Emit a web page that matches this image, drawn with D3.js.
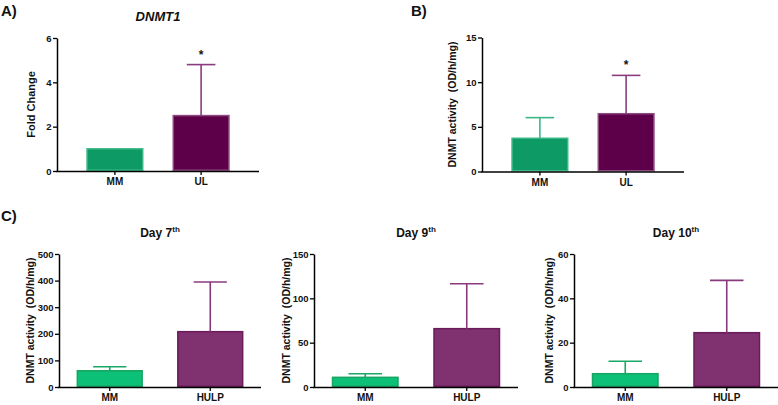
<!DOCTYPE html>
<html><head><meta charset="utf-8">
<script src="https://cdn.jsdelivr.net/npm/d3@7"></script>
<style>
body{margin:0;background:#fff;}
svg text{font-family:"Liberation Sans",Arial,sans-serif;font-weight:bold;}
</style></head>
<body><svg id="c" width="778" height="405"></svg>
<script>
// ---- data ----
const catsAB = ["MM", "UL"];
const catsC = ["MM", "HULP"];
const aValues = [1.0, 2.5];      const aSD = [0, 2.3];
const bValues = [3.72, 6.47];    const bSD = [2.31, 4.29];
const d7Values = [61, 208];      const d7SD = [15, 187];
const d9Values = [10.9, 65.8];   const d9SD = [4.1, 50.7];
const d10Values = [6.0, 24.5];   const d10SD = [5.6, 23.6];
const aTicks = [0, 2, 4, 6];
const bTicks = [0, 5, 10, 15];
const d7Ticks = [0, 100, 200, 300, 400, 500];
const d9Ticks = [0, 50, 100, 150];
const d10Ticks = [0, 20, 40, 60];

const svg = d3.select("#c");

const styleAB = [
  {fill:"#0e9a65", stroke:"#3bb787", err:"#3bb787"},
  {fill:"#5e0049", stroke:"#8c4a80", err:"#8b3c7e"}
];
const styleC = [
  {fill:"#0cc077", stroke:"#18a462", err:"#1aa866"},
  {fill:"#803270", stroke:"#6b1a5c", err:"#8a3a7c"}
];

function panel(o){
  const g = svg.append("g");
  const x = d3.scaleBand().domain(o.cats).range([o.x0, o.x1])
    .paddingInner(o.pi).paddingOuter(o.po);
  const y = d3.scaleLinear().domain([0, o.ticks[o.ticks.length-1]]).range([o.y0, o.y1]);
  const data = o.cats.map((c,i)=>({c, v:o.values[i], sd:o.sd[i], s:o.styles[i]}));
  // bars
  g.selectAll("rect.bar").data(data).enter().append("rect")
    .attr("x", d=>x(d.c)+0.75).attr("width", x.bandwidth()-1.5)
    .attr("y", d=>y(d.v)).attr("height", d=>y(0)-y(d.v)-0.75)
    .attr("fill", d=>d.s.fill).attr("stroke", d=>d.s.stroke).attr("stroke-width",1.5);
  // error bars
  const eb = data.filter(d=>d.sd>0);
  g.selectAll("line.ev").data(eb).enter().append("line")
    .attr("x1", d=>x(d.c)+x.bandwidth()/2).attr("x2", d=>x(d.c)+x.bandwidth()/2)
    .attr("y1", d=>y(d.v)).attr("y2", d=>y(d.v+d.sd))
    .attr("stroke", d=>d.s.err).attr("stroke-width",1.6);
  g.selectAll("line.ec").data(eb).enter().append("line")
    .attr("x1", d=>x(d.c)+x.bandwidth()*0.25).attr("x2", d=>x(d.c)+x.bandwidth()*0.75)
    .attr("y1", d=>y(d.v+d.sd)).attr("y2", d=>y(d.v+d.sd))
    .attr("stroke", d=>d.s.err).attr("stroke-width",1.6);
  // y axis
  const ya = g.append("g").attr("transform",`translate(${o.x0},0)`)
    .call(d3.axisLeft(y).tickValues(o.ticks).tickFormat(d3.format("d"))
      .tickSize(4).tickPadding(1.5).tickSizeOuter(0));
  ya.select(".domain").attr("stroke","#000").attr("stroke-width",1.5);
  ya.selectAll(".tick line").attr("stroke","#000").attr("stroke-width",1.3);
  ya.selectAll(".tick text").attr("font-size",9.5).attr("fill","#111");
  // x axis
  const xa = g.append("g").attr("transform",`translate(0,${o.y0})`)
    .call(d3.axisBottom(x).tickSize(4).tickPadding(3).tickSizeOuter(0));
  xa.select(".domain").attr("stroke","#000").attr("stroke-width",1.5)
    .attr("d", `M${o.x0-0.75},0.5H${o.x1}`);
  xa.selectAll(".tick line").attr("stroke","#000").attr("stroke-width",1.3);
  xa.selectAll(".tick text").attr("font-size",10).attr("fill","#111");
  // y label
  g.append("text").attr("transform",`translate(${o.ylx},${(o.y0+o.y1)/2}) rotate(-90)`)
    .attr("text-anchor","middle").attr("font-size",o.ylfs).attr("fill","#111")
    .style("white-space","pre").text(o.ylabel);
  // title
  if (o.title){
    const t = g.append("text").attr("x",(o.x0+o.x1)/2).attr("y",o.ty)
      .attr("text-anchor","middle").attr("font-size",o.tfs).attr("fill","#111");
    if (o.italic) t.attr("font-style","italic");
    t.append("tspan").text(o.title);
    if (o.sup) t.append("tspan").attr("font-size",8).attr("dy",-5).text(o.sup);
  }
  // significance stars
  if (o.star) o.star.forEach(c=>{
    const d = data.find(e=>e.c===c);
    g.append("text").attr("x", x(c)+x.bandwidth()/2).attr("y", y(d.v+d.sd)-6)
      .attr("text-anchor","middle").attr("font-size",12).attr("fill","#111").text("*");
  });
}

panel({cats:catsAB, values:aValues, sd:aSD, styles:styleAB, ticks:aTicks,
  x0:57, x1:259, y0:171, y1:38, pi:0.337, po:0.34, ylx:35, ylfs:11,
  ylabel:"Fold Change", title:"DNMT1", italic:true, tfs:13, ty:21, star:["UL"]});
panel({cats:catsAB, values:bValues, sd:bSD, styles:styleAB, ticks:bTicks,
  x0:482, x1:684, y0:171.5, y1:37.5, pi:0.337, po:0.34, ylx:456, ylfs:10.5,
  ylabel:"DNMT activity  (OD/h/mg)", star:["UL"]});
panel({cats:catsC, values:d7Values, sd:d7SD, styles:styleC, ticks:d7Ticks,
  x0:59, x1:261, y0:387, y1:254, pi:0.34, po:0.175, ylx:34, ylfs:10.5,
  ylabel:"DNMT activity  (OD/h/mg)", title:"Day 7", sup:"th", tfs:12, ty:237});
panel({cats:catsC, values:d9Values, sd:d9SD, styles:styleC, ticks:d9Ticks,
  x0:314, x1:518, y0:387, y1:254, pi:0.34, po:0.175, ylx:290, ylfs:10.5,
  ylabel:"DNMT activity  (OD/h/mg)", title:"Day 9", sup:"th", tfs:12, ty:237});
panel({cats:catsC, values:d10Values, sd:d10SD, styles:styleC, ticks:d10Ticks,
  x0:574, x1:778, y0:387, y1:254, pi:0.34, po:0.175, ylx:553, ylfs:10.5,
  ylabel:"DNMT activity  (OD/h/mg)", title:"Day 10", sup:"th", tfs:12, ty:237});

// panel letters
svg.append("text").attr("x",1).attr("y",16).attr("font-size",15).attr("fill","#111").text("A)");
svg.append("text").attr("x",411).attr("y",16).attr("font-size",15).attr("fill","#111").text("B)");
svg.append("text").attr("x",1).attr("y",221).attr("font-size",15).attr("fill","#111").text("C)");
</script></body></html>
